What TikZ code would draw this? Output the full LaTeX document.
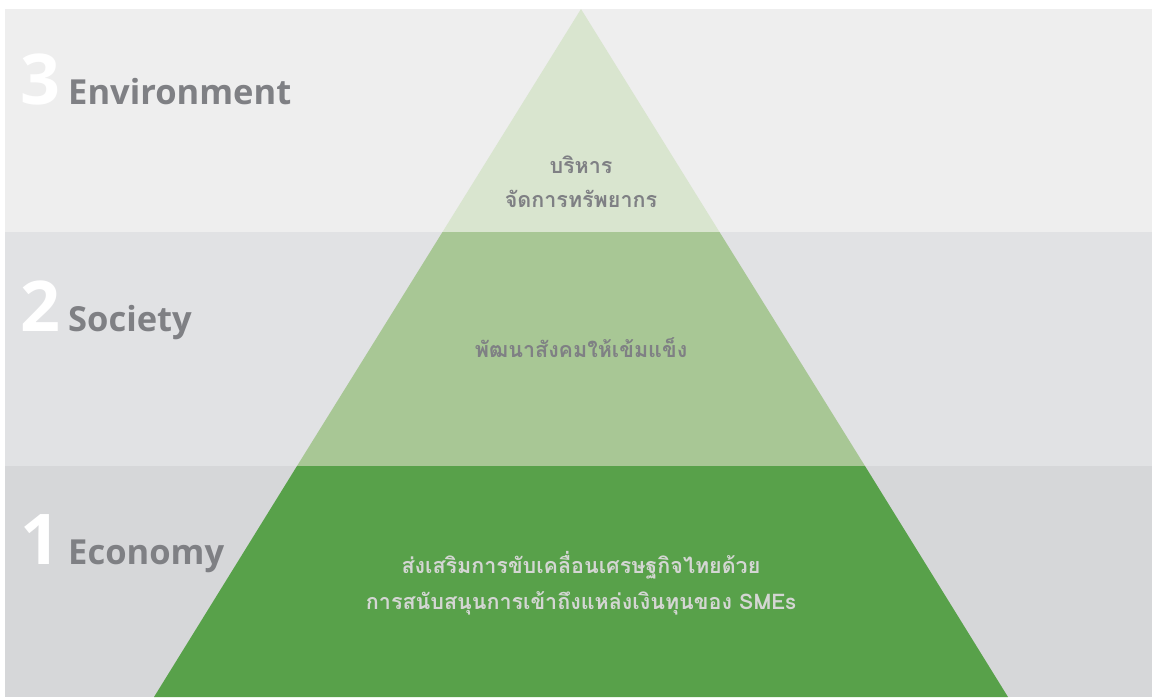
\documentclass[tikz,border=0pt]{standalone}
\usepackage{fontspec}
\setmainfont{Open Sans}
\newfontfamily\thaifont[Script=Thai]{Loma}
\usetikzlibrary{positioning}
\definecolor{bandtop}{HTML}{EEEEEE}
\definecolor{bandmid}{HTML}{E1E2E4}
\definecolor{bandlow}{HTML}{D6D7D9}
\definecolor{greentop}{HTML}{D9E5CF}
\definecolor{greenmid}{HTML}{A8C795}
\definecolor{greenlow}{HTML}{58A14A}
\definecolor{labelgrey}{HTML}{7F8084}
\definecolor{paletext}{HTML}{D4D6D3}
\tikzset{
  number/.style={anchor=base west, text=white, inner sep=0,
    font=\bfseries\fontsize{70}{70}\selectfont},
  level/.style={anchor=base west, text=labelgrey, inner sep=0,
    font=\bfseries\fontsize{34.5}{34.5}\selectfont},
  thai/.style={anchor=base, inner sep=0,
    font=\thaifont\bfseries\fontsize{21.5}{21.5}\selectfont}
}
\begin{document}
\begin{tikzpicture}[x=1pt,y=-1pt]
  \useasboundingbox (0,0) rectangle (1152,697);
  % bands
  \fill[bandtop] (5,9) rectangle (1152,232);
  \fill[bandmid] (5,232) rectangle (1152,466);
  \fill[bandlow] (5,466) rectangle (1152,697);
  % pyramid
  \coordinate (apex) at (581,9);
  \coordinate (tl) at (442.5,232);
  \coordinate (tr) at (719.5,232);
  \coordinate (ml) at (297,466);
  \coordinate (mr) at (865,466);
  \coordinate (bl) at (154,697);
  \coordinate (br) at (1008,697);
  \fill[greentop] (apex) -- (tr) -- (tl) -- cycle;
  \fill[greenmid] (tl) -- (tr) -- (mr) -- (ml) -- cycle;
  \fill[greenlow] (ml) -- (mr) -- (br) -- (bl) -- cycle;
  % levels
  \node[number] (n3) at (20,104) {3};
  \node[level] (l3) at (68,104) {Environment};
  \node[number] (n2) at (20,331) {2};
  \node[level] (l2) at (68,331) {Society};
  \node[number] (n1) at (20,564) {1};
  \node[level] (l1) at (68,564) {Economy};
  % pyramid texts
  \node[thai, text=labelgrey] (t3a) at (581,173) {บริหาร};
  \node[thai, text=labelgrey] (t3b) at (581,207) {จัดการทรัพยากร};
  \node[thai, text=labelgrey] (t2) at (581,357) {พัฒนาสังคมให้เข้มแข็ง};
  \node[thai, text=paletext] (t1a) at (581,573) {ส่งเสริมการขับเคลื่อนเศรษฐกิจไทยด้วย};
  \node[thai, text=paletext] (t1b) at (581,609) {การสนับสนุนการเข้าถึงแหล่งเงินทุนของ SMEs};
\end{tikzpicture}
\end{document}
